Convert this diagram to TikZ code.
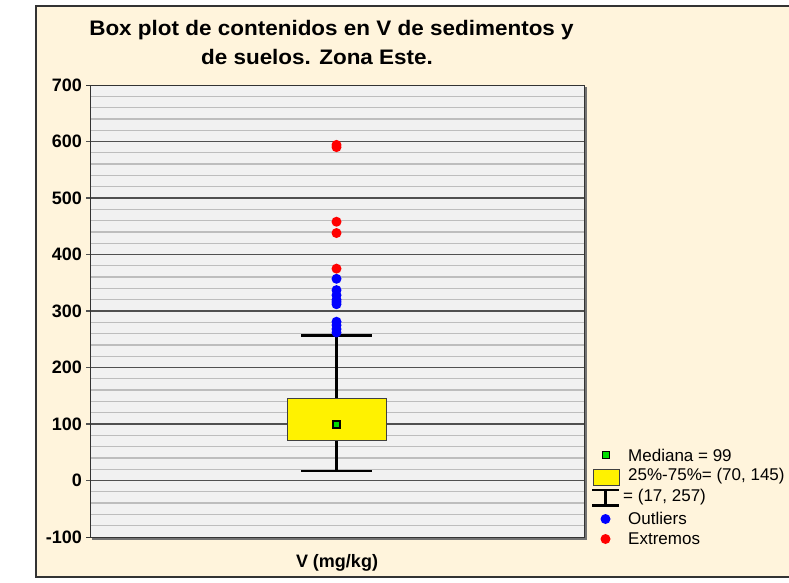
\documentclass[tikz,border=0pt]{standalone}
\usepackage{fontspec}
\setmainfont{Liberation Sans}
\definecolor{bgc}{HTML}{FFF4DC}
\definecolor{plotbg}{HTML}{F1F1F1}
\definecolor{minorc}{HTML}{BDBDBD}
\definecolor{majorc}{HTML}{505050}
\definecolor{framec}{HTML}{333333}
\definecolor{medc}{HTML}{00DD00}
\definecolor{outc}{HTML}{0000FF}
\definecolor{extc}{HTML}{FF0000}
\tikzset{
  ylab/.style={anchor=east, inner sep=0pt, font=\bfseries\fontsize{18}{18}\selectfont},
  legtext/.style={anchor=west, inner sep=0pt, font=\fontsize{17}{17}\selectfont},
  titletext/.style={inner sep=0pt, font=\bfseries\fontsize{21}{21}\selectfont},
  whisk/.style={line width=2.4pt, black},
  outdot/.style={fill=outc},
  extdot/.style={fill=extc},
}
\newcommand{\vy}[1]{480.5-0.565*(#1)}
\begin{document}
\begin{tikzpicture}[x=1pt,y=-1pt]
\useasboundingbox (0,0) rectangle (789,582);
% outer frame
\fill[bgc] (36,5.5) rectangle (800,577);
\draw[framec, line width=2pt] (800,5.5) -- (36,5.5) -- (36,577) -- (800,577);
% title
\node[titletext] (t1) at (331.5,30) {\scalebox{1.07}[1]{Box plot de contenidos en V de sedimentos y}};
\node[titletext] (t2) at (317,57) {\scalebox{1.07}[1]{de suelos. Zona Este.}};
% plot area
\fill[black!55] (92,87) rectangle (586.5,539.5);
\fill[plotbg] (90,85) rectangle (584,537);
\foreach \v in {-80,-60,...,680} {
  \draw[minorc, line width=1.3pt] (90,{\vy{\v}}) -- (584,{\vy{\v}});
}
\foreach \v in {0,100,...,600} {
  \draw[majorc, line width=1.3pt] (86,{\vy{\v}}) -- (584,{\vy{\v}});
}
\draw[black!80, line width=1pt] (90,85) rectangle (584,537);
\draw[black!80, line width=1pt] (86,85) -- (90,85) (86,537) -- (90,537);
% y labels
\foreach \v in {-100,0,100,...,700} {
  \node[ylab] (yl\v) at (82,{\vy{\v}}) {\v};
}
% axis label
\node[inner sep=0pt, font=\bfseries\fontsize{18}{18}\selectfont] (xl) at (337,563) {V (mg/kg)};
% whiskers
\draw[whisk] (336.5,{\vy{145}}) -- (336.5,{\vy{257}});
\draw[whisk] (301,{\vy{257}}) -- (372,{\vy{257}});
\draw[whisk] (336.5,{\vy{70}}) -- (336.5,{\vy{17}});
\draw[whisk] (301,{\vy{17}}) -- (372,{\vy{17}});
% box
\filldraw[fill=yellow, draw=black!75, line width=1pt] (287,{\vy{145}}) rectangle (386,{\vy{70}});
% median
\filldraw[fill=medc, draw=black, line width=1.2pt] (333,{\vy{99}-3.5}) rectangle (340,{\vy{99}+3.5});
% outliers
\foreach \v in {262,268,275,281,312,316,320,328,337,357} {
  \fill[outdot] (336.5,{\vy{\v}}) circle (5);
}
% extremes
\foreach \v in {375,438,458,590,594} {
  \fill[extdot] (336.5,{\vy{\v}}) circle (5);
}
% legend
\filldraw[fill=medc, draw=black, line width=1.2pt] (602.5,451.5) rectangle (609.5,458.5);
\node[legtext] (l1) at (628,455) {Mediana = 99};
\filldraw[fill=yellow, draw=black!75, line width=1pt] (593,469) rectangle (619,485);
\node[legtext] (l2) at (628,476) {25\%-75\%= (70, 145)};
\draw[whisk] (592,490) -- (619,490) (605.5,490) -- (605.5,505.5) (592,505.5) -- (619,505.5);
\node[legtext] (l3) at (623,497.5) {= (17, 257)};
\fill[outdot] (605.5,519) circle (5);
\node[legtext] (l4) at (628,518.5) {Outliers};
\fill[extdot] (605.5,539) circle (5);
\node[legtext] (l5) at (628,538.5) {Extremos};
\end{tikzpicture}
\end{document}
